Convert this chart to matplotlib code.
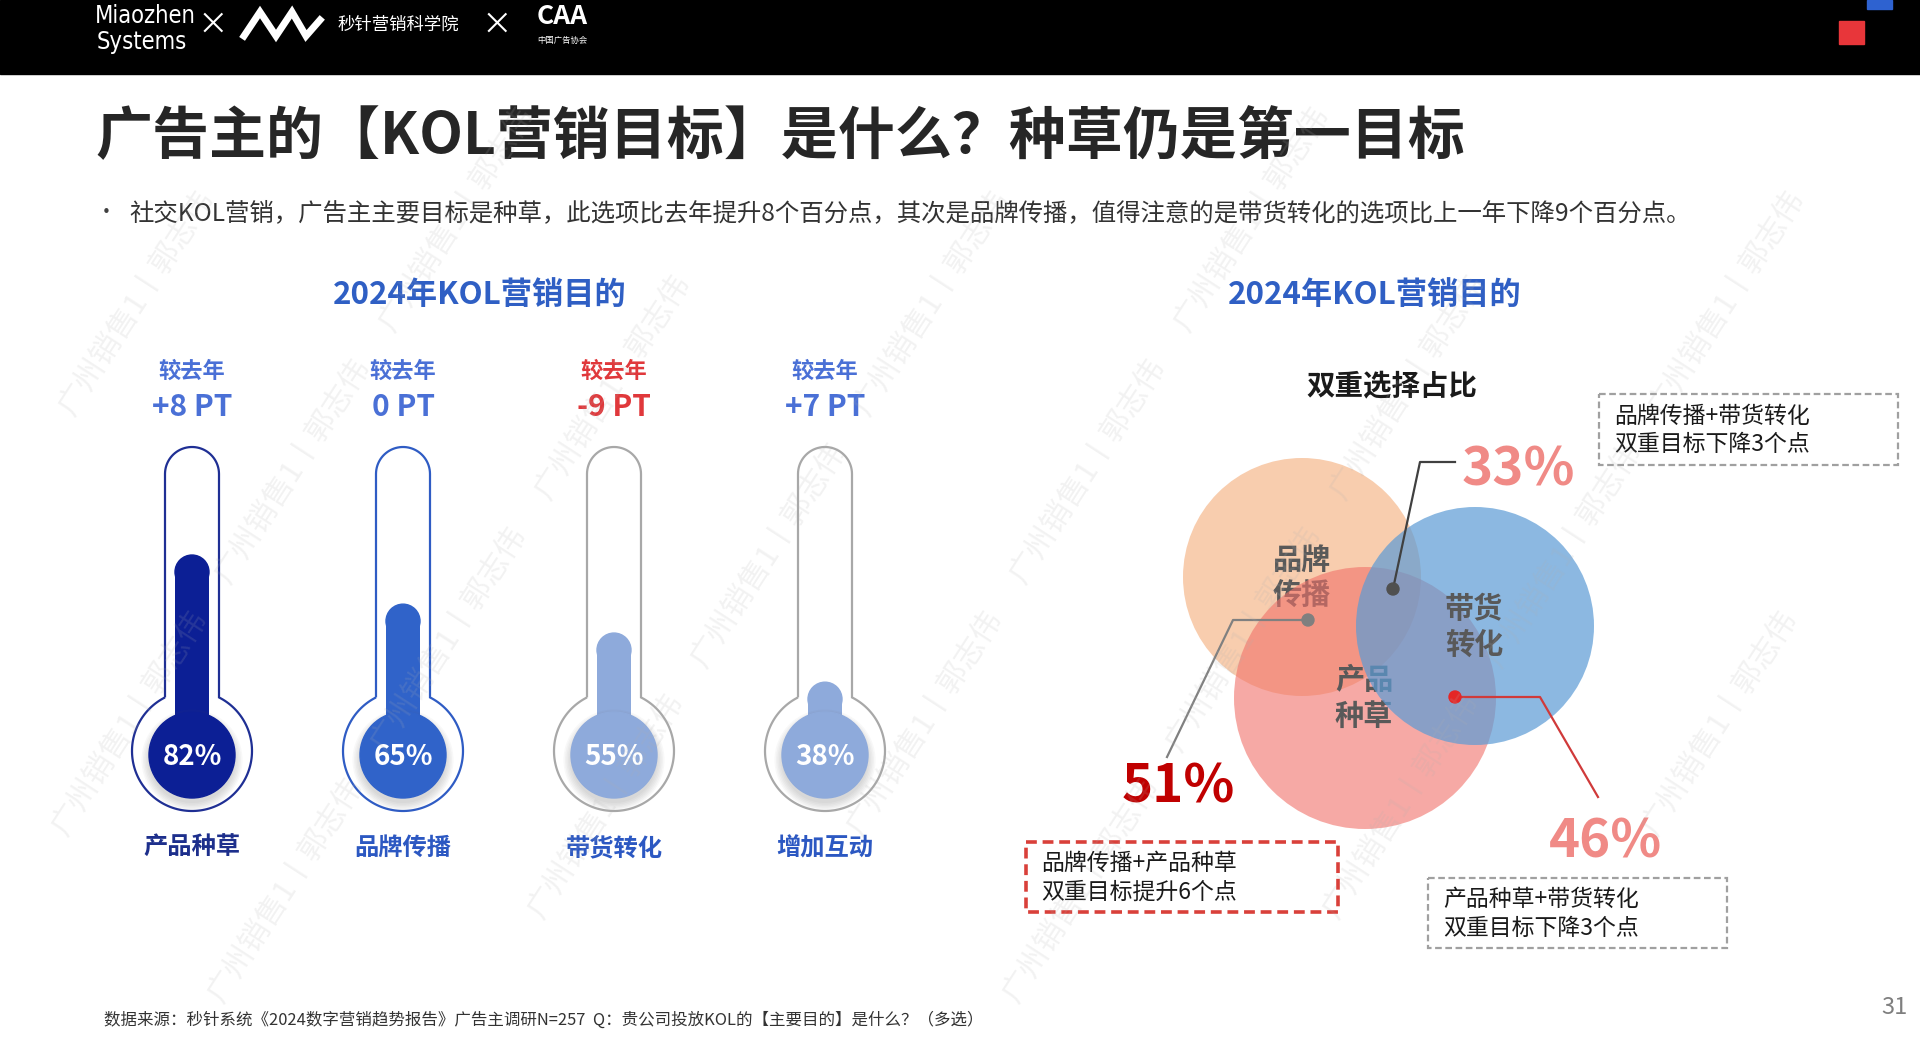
import numpy as np
import matplotlib
matplotlib.use('Agg')
import matplotlib.pyplot as plt
from matplotlib.patches import Circle, Ellipse, Rectangle, PathPatch
from matplotlib.path import Path

plt.rcParams['font.family'] = ['Noto Sans CJK SC', 'DejaVu Sans']

# ---- data ----
goals = ['产品种草', '品牌传播', '带货转化', '增加互动']
share_2024 = [82, 65, 55, 38]
yoy_change = ['+8 PT', '0 PT', '-9 PT', '+7 PT']

venn_sets = ['品牌\n传播', '产品\n种草', '带货\n转化']
pair_share = [51, 33, 46]   # 品牌+产品, 品牌+带货, 产品+带货
pair_notes = ['品牌传播+产品种草\n双重目标提升6个点',
              '品牌传播+带货转化\n双重目标下降3个点',
              '产品种草+带货转化\n双重目标下降3个点']

title = '广告主的【KOL营销目标】是什么？种草仍是第一目标'
bullet = ('社交KOL营销，广告主主要目标是种草，此选项比去年提升8个百分点，其次是品牌传播，'
          '值得注意的是带货转化的选项比上一年下降9个百分点。')
source = '数据来源：秒针系统《2024数字营销趋势报告》广告主调研N=257  Q：贵公司投放KOL的【主要目的】是什么？（多选）'

# ---- styles ----
fill_colors = ['#0c1f95', '#3063c9', '#8eaadb', '#8eaadb']
edge_colors = ['#1f2f94', '#2f5cc4', '#a8a8a8', '#a8a8a8']
goal_colors = ['#1d2f8c', '#2c58c2', '#2c58c2', '#2c58c2']
change_colors = ['#4a70d6', '#4a70d6', '#e0383b', '#4a70d6']

W, H = 1920, 1043
fig = plt.figure(figsize=(W / 100, H / 100), dpi=100)
fig.patch.set_facecolor('white')

ax = fig.add_axes([0, 0, 1, 1])
ax.set_xlim(0, W)
ax.set_ylim(H, 0)
ax.axis('off')

# ---- header band ----
ax.add_patch(Rectangle((0, 0), W, 74, color='black', zorder=1))
ax.text(95, 16, 'Miaozhen', color='white', fontsize=17, va='center', ha='left',
        family='DejaVu Sans', fontstretch='condensed', zorder=2)
ax.text(97, 42, 'Systems', color='white', fontsize=17, va='center', ha='left',
        family='DejaVu Sans', fontstretch='condensed', zorder=2)
ax.text(213, 25, '×', color='white', fontsize=22, va='center', ha='center', zorder=2)
ax.plot([244, 260, 276, 292, 306, 320], [36, 12, 36, 12, 36, 20], color='white',
        lw=5, solid_joinstyle='miter', zorder=2)
ax.text(337, 25, '秒针营销科学院', color='white', fontsize=12.5, va='center', ha='left', zorder=2)
ax.text(497, 25, '×', color='white', fontsize=22, va='center', ha='center', zorder=2)
ax.text(562, 17, 'CAA', color='white', fontsize=19, weight='bold', va='center', ha='center', zorder=2)
ax.text(562, 40, '中国广告协会', color='white', fontsize=6, va='center', ha='center', zorder=2)
ax.add_patch(Rectangle((1839, 21), 25, 23, color='#e8363a', zorder=2))
ax.add_patch(Rectangle((1867, 0), 25, 9, color='#2e62d0', zorder=2))

# ---- title & bullet ----
ax.text(95, 137, title, fontsize=41, weight='bold', color='#262626', va='center', ha='left')
ax.text(106, 213, '•', fontsize=15, color='#404040', va='center', ha='center')
ax.text(129, 213, bullet, fontsize=17.6, color='#333333', va='center', ha='left')

ax.text(480, 295, '2024年KOL营销目的', fontsize=22.5, weight='bold', color='#2f5fc4',
        va='center', ha='center')
ax.text(1375, 295, '2024年KOL营销目的', fontsize=22.5, weight='bold', color='#2f5fc4',
        va='center', ha='center')

# ---- thermometers: own axes, x = category, y = percent ----
slot = 211          # px per category
ppp = 2.89          # px per percent point
zero_px = 792       # pixel row of 0%
top_px, bot_px = 420, 880
left_px = 192 - slot / 2
tax = fig.add_axes([left_px / W, 1 - bot_px / H, 4 * slot / W, (bot_px - top_px) / H])
tax.set_xlim(-0.5, 3.5)
tax.set_ylim(-(bot_px - zero_px) / ppp, (zero_px - top_px) / ppp)
tax.axis('off')


def dx(p):
    return p / slot


def dy(p):
    return p / ppp


def ty(ypx):
    return (zero_px - ypx) / ppp


yc = ty(751)         # bulb centre
R, hw, stem = 60, 27, 277
yj = np.sqrt(R ** 2 - hw ** 2)
aj = np.degrees(np.arctan2(yj, hw))
top_arc = np.radians(np.linspace(180, 0, 40))
big_arc = np.radians(np.linspace(aj, -180 - aj, 140))
ox = np.concatenate([[-hw, -hw], hw * np.cos(top_arc), [hw], R * np.cos(big_arc)])
oy = np.concatenate([[yj, stem], stem + hw * np.sin(top_arc), [yj], R * np.sin(big_arc)])

x_pos = np.arange(len(goals))
for i, v in enumerate(share_2024):
    verts = np.column_stack([i + dx(ox), yc + dy(oy)])
    tax.add_patch(PathPatch(Path(verts, closed=False), facecolor='white',
                            edgecolor=edge_colors[i], lw=1.6, zorder=2))
    cap = dy(17)
    tax.bar(x_pos[i], v - cap - yc, bottom=yc, width=dx(34), color=fill_colors[i], zorder=3)
    tax.add_patch(Ellipse((x_pos[i], v - cap), dx(34), dy(34), color=fill_colors[i], zorder=3))
    for k in range(6):
        tax.add_patch(Ellipse((x_pos[i], ty(760)), dx(86 + 3 * k), dy(86 + 3 * k),
                              color='#606060', alpha=0.045, lw=0, zorder=3))
    tax.add_patch(Ellipse((x_pos[i], ty(755)), dx(86), dy(86), color=fill_colors[i], zorder=4))
    tax.text(x_pos[i], ty(757), f'{v}%', color='white', fontsize=20, weight='bold',
             ha='center', va='center', zorder=5)
    tax.text(x_pos[i], ty(371), '较去年', color=change_colors[i], fontsize=16, weight='bold',
             ha='center', va='center')
    tax.text(x_pos[i], ty(407), yoy_change[i], color=change_colors[i], fontsize=21.5,
             weight='bold', ha='center', va='center')
    tax.text(x_pos[i], ty(848), goals[i], color=goal_colors[i], fontsize=17.5, weight='bold',
             ha='center', va='center')

# ---- Venn ----
ax.text(1392, 386, '双重选择占比', fontsize=20.5, weight='bold', color='#1a1a1a',
        ha='center', va='center')
ax.add_patch(Circle((1302, 577), 119, color='#f8cdae', lw=0, zorder=2))
ax.text(1302, 578, venn_sets[0], fontsize=21, weight='bold', color='#595959', ha='center',
        va='center', linespacing=1.25, zorder=2.5)
ax.add_patch(Circle((1365, 698), 131, color='#f17169', alpha=0.6, lw=0, zorder=3))
ax.text(1364, 698, venn_sets[1], fontsize=21, weight='bold', color='#595959', ha='center',
        va='center', linespacing=1.25, zorder=3.5)
ax.add_patch(Circle((1475, 626), 119, color='#5b9bd5', alpha=0.7, lw=0, zorder=4))
ax.text(1474, 627, venn_sets[2], fontsize=21, weight='bold', color='#595959', ha='center',
        va='center', linespacing=1.25, zorder=5)

# callouts
ax.plot([1393, 1420, 1455], [589, 462, 462], color='#404040', lw=1.6, zorder=6)
ax.add_patch(Circle((1393, 589), 6, color='#505050', zorder=6))
ax.text(1518, 470, f'{pair_share[1]}%', fontsize=38, weight='bold', color='#f08a86',
        ha='center', va='center', zorder=6)

ax.plot([1308, 1233, 1167], [620, 620, 757], color='#808080', lw=1.6, zorder=6)
ax.add_patch(Circle((1308, 620), 6, color='#7f7f7f', zorder=6))
ax.text(1178, 787, f'{pair_share[0]}%', fontsize=38, weight='bold', color='#c00000',
        ha='center', va='center', zorder=6)

ax.plot([1455, 1540, 1598], [697, 697, 797], color='#d03a3a', lw=1.6, zorder=6)
ax.add_patch(Circle((1455, 697), 6, color='#e52626', zorder=6))
ax.text(1605, 842, f'{pair_share[2]}%', fontsize=38, weight='bold', color='#f08a86',
        ha='center', va='center', zorder=6)

# note boxes
boxes = [((1026, 842), 312, 70, '#d9403a', 2.6),
         ((1599, 394), 299, 71, '#a0a0a0', 1.6),
         ((1428, 878), 299, 70, '#a0a0a0', 1.6)]
for (xy, bw, bh, ec, lw), note in zip(boxes, pair_notes):
    ax.add_patch(Rectangle(xy, bw, bh, fill=False, edgecolor=ec, lw=lw,
                           linestyle=(0, (3, 1.6)), zorder=6))
    ax.text(xy[0] + 15, xy[1] + bh / 2 + 1, note, fontsize=16.5, color='#1a1a1a',
            ha='left', va='center', linespacing=1.3, zorder=6)

# ---- footer ----
ax.text(104, 1020, source, fontsize=11.9, color='#333333', ha='left', va='center')
ax.text(1894, 1008, '31', fontsize=17, color='#7f7f7f', ha='center', va='center')

# ---- watermark overlay (whole chunks only) ----
wax = fig.add_axes([0, 0, 1, 1])
wax.set_xlim(0, W)
wax.set_ylim(H, 0)
wax.axis('off')
ang = np.radians(57)
ux, uy = np.cos(ang), -np.sin(ang)
chunk, period = 235, 300
for s, xs in enumerate(range(-900, 2100, 265)):
    for k in range(8):
        d = k * period + (s % 3) * 100
        x1, y1 = xs + d * ux, H + 40 + d * uy
        x2, y2 = x1 + chunk * ux, y1 + chunk * uy
        if min(x1, x2) < 20 or max(x1, x2) > W - 20 or min(y1, y2) < 95 or max(y1, y2) > H - 20:
            continue
        wax.text(x1, y1, '广州销售1丨郭志伟', fontsize=22, color='#b0b0b0', alpha=0.16,
                 rotation=57, rotation_mode='anchor', ha='left', va='center')

fig.savefig('out.png', dpi=100, facecolor='white')
